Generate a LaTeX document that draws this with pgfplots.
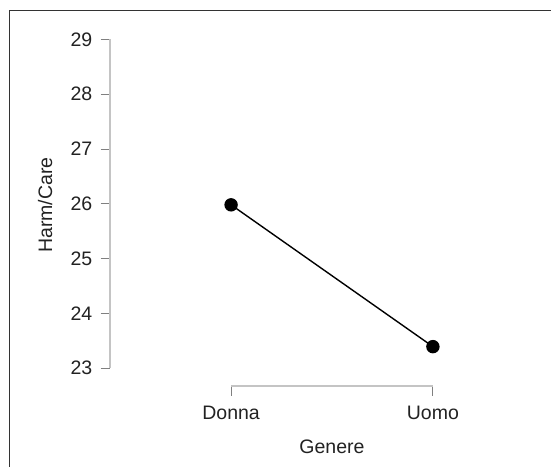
\documentclass[border=0pt]{standalone}
\usepackage{pgfplots}
\pgfplotsset{compat=1.18}
\usepackage{fontspec}
\setmainfont{Liberation Sans}
\definecolor{txt}{HTML}{222222}
\definecolor{frame}{HTML}{333333}
\definecolor{axisln}{HTML}{C4C4C4}
\definecolor{tickc}{HTML}{808080}
\begin{document}
\fontsize{19.5}{23}\selectfont
\begin{tikzpicture}
\begin{axis}[
  at={(110pt,80pt)}, anchor=south west,
  scale only axis, width=444pt, height=362pt,
  xmin=0.4, xmax=2.6, ymin=22.671, ymax=29.283,
  axis x line=bottom, axis y line=left,
  axis line style={draw=none},
  xtick={1,2}, xticklabels={Donna,Uomo},
  ytick={23,24,25,26,27,28,29},
  tick align=outside,
  major tick length=9.5pt,
  tick style={draw=tickc, line width=0.9pt},
  /pgf/number format/assume math mode=true,
  every tick label/.append style={inner sep=0pt, text=txt, font=\fontsize{19.5}{23}\selectfont},
  yticklabel style={xshift=-8pt},
  xticklabel style={yshift=-10pt},
  xlabel={Genere}, ylabel={Harm/Care},
  label style={text=txt, font=\fontsize{19.5}{23}\selectfont, inner sep=0pt},
  xlabel style={at={(axis description cs:0.5,-0.1851)}, anchor=base},
  ylabel style={at={(axis description cs:-0.1306,0.5)}, anchor=base},
  clip=false,
]
\draw[axisln, line width=1.2pt] (axis cs:0.4,23) -- (axis cs:0.4,29);
\draw[axisln, line width=1.2pt] (axis cs:1,22.671) -- (axis cs:2,22.671);
\addplot[black, line width=1.4pt, mark=*, mark size=6pt, mark options={fill=black}]
  coordinates {(1,25.98) (2,23.39)};
\end{axis}
\draw[frame, line width=1.6pt] (9.5pt,-2pt) -- (9.5pt,455.5pt) -- (555pt,455.5pt);
\pgfresetboundingbox
\useasboundingbox (0,0) rectangle (551pt,466pt);
\end{tikzpicture}
\end{document}
